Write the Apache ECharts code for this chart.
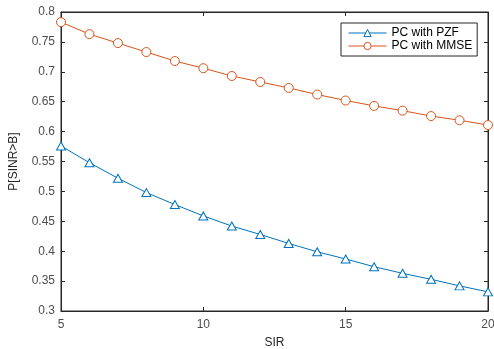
<!DOCTYPE html>
<html><head><meta charset="utf-8">
<script src="https://cdn.jsdelivr.net/npm/echarts@6/dist/echarts.min.js"></script>
<style>html,body{margin:0;padding:0;background:#fff}#c{width:494px;height:349px}</style>
</head><body><div id="c"></div>
<script>
const sir = [5,6,7,8,9,10,11,12,13,14,15,16,17,18,19,20];
const pzf = [0.576,0.548,0.522,0.498,0.478,0.459,0.442,0.428,0.413,0.399,0.387,0.374,0.363,0.353,0.342,0.332];
const mmse = [0.783,0.763,0.748,0.733,0.718,0.706,0.693,0.683,0.673,0.662,0.652,0.643,0.635,0.626,0.619,0.611];
const seriesNames = ['PC with PZF','PC with MMSE'];
const xTitle = 'SIR', yTitle = 'P[SINR>B]';

const axisCol = '#262626', lblCol = '#4d4d4d';
const font = 'Liberation Sans, Arial, sans-serif';
const chart = echarts.init(document.getElementById('c'));
const mk = (name, data, color, symbol, size) => ({
  name, type:'line', data: sir.map((x,i)=>[x,data[i]]),
  symbol, symbolSize: size, showAllSymbol:true,
  lineStyle:{color, width:1},
  itemStyle:{color:'#ffffff', borderColor:color, borderWidth:1},
  emphasis:{disabled:true}, animation:false, z:3
});
chart.setOption({
  animation:false,
  grid:{left:61, right:6, top:12, bottom:38, show:true, borderColor:axisCol, borderWidth:1,
    containLabel:false, outerBoundsMode:'none'},
  xAxis:[{type:'value', min:5, max:20, interval:5,
    name:xTitle, nameLocation:'middle', nameGap:26, nameTextStyle:{fontFamily:font,fontSize:12,color:'#262626'},
    axisLine:{show:true,lineStyle:{color:axisCol}}, axisTick:{inside:true,length:4,lineStyle:{color:axisCol}},
    axisLabel:{fontFamily:font,fontSize:12,color:lblCol,margin:8}, splitLine:{show:false}},
    {type:'value', position:'top', min:5, max:20, interval:5,
    axisLine:{show:true,lineStyle:{color:axisCol}}, axisTick:{inside:true,length:4,lineStyle:{color:axisCol}},
    axisLabel:{show:false}, splitLine:{show:false}}],
  yAxis:[{type:'value', min:0.3, max:0.8, interval:0.05,
    name:yTitle, nameLocation:'middle', nameGap:41, nameRotate:90, nameTextStyle:{fontFamily:font,fontSize:12,color:'#262626'},
    axisLine:{show:true,lineStyle:{color:axisCol}}, axisTick:{inside:true,length:4,lineStyle:{color:axisCol}},
    axisLabel:{fontFamily:font,fontSize:12,color:lblCol,margin:6,formatter:v=>String(+v.toFixed(2))}, splitLine:{show:false}},
    {type:'value', position:'right', min:0.3, max:0.8, interval:0.05,
    axisLine:{show:true,lineStyle:{color:axisCol}}, axisTick:{inside:true,length:4,lineStyle:{color:axisCol}},
    axisLabel:{show:false}, splitLine:{show:false}}],
  legend:{left:341, top:23, orient:'vertical', itemGap:1, itemWidth:38, itemHeight:9,
    padding:[4,5,4,7], borderColor:axisCol, borderWidth:1, backgroundColor:'#fff',
    lineStyle:{width:1}, itemStyle:{borderWidth:1},
    textStyle:{fontFamily:font,fontSize:12,color:'#000'}, data:seriesNames},
  series:[mk(seriesNames[0], pzf, '#0072BD','triangle',[9,8]), mk(seriesNames[1], mmse, '#D95319','circle',9)]
});
</script></body></html>
